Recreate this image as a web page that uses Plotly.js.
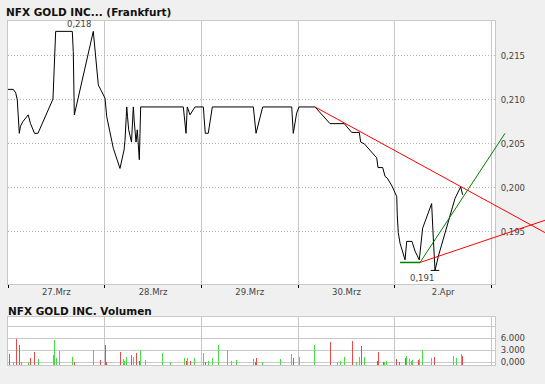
<!DOCTYPE html>
<html>
<head>
<meta charset="utf-8">
<script src="https://cdn.plot.ly/plotly-3.0.1.min.js"></script>
<style>
html,body{margin:0;padding:0;background:#f0f0f0;}
#chart{width:545px;height:384px;}
</style>
</head>
<body>
<div id="chart"></div>
<script>
// ---- data ----
const dayLabels = ['27.Mrz', '28.Mrz', '29.Mrz', '30.Mrz', '2.Apr'];
const priceTicks = [0.195, 0.200, 0.205, 0.210, 0.215];
const priceTickText = ['0,195', '0,200', '0,205', '0,210', '0,215'];
const volTicks = [0, 3000, 6000, 9000];
const volTickText = ['0,000', '3.000', '6.000', ''];

// time in trading days (0 = start of 27.Mrz)
const priceT = [0.000,0.055,0.080,0.096,0.117,0.129,0.152,0.209,0.233,0.274,0.310,0.465,0.493,0.665,0.675,0.686,0.882,0.934,0.962,1.003,
  1.021,1.089,1.158,1.176,1.200,1.210,1.228,1.236,1.248,1.277,1.290,1.296,1.306,1.324,1.337,1.347,1.358,1.365,1.372,1.813,
  1.841,1.854,1.882,1.934,2.020,2.040,2.071,2.113,2.537,2.565,2.606,2.634,2.934,2.950,2.985,3.009,3.175,3.244,3.330,3.478,
  3.554,3.633,3.647,3.685,3.813,3.826,3.875,3.899,3.922,3.971,4.002,4.020,4.026,4.036,4.054,4.106,4.123,4.178,4.209,4.253,
  4.288,4.381,4.398,4.416,4.450,4.571,4.623,4.681,4.702];
const priceV = [0.2112,0.2112,0.2108,0.2100,0.2062,0.2070,0.2075,0.2083,0.2073,0.2062,0.2062,0.2101,0.2178,0.2178,0.2155,0.2083,0.2178,0.2117,0.2111,0.2102,
  0.2081,0.2045,0.2022,0.2032,0.2043,0.2054,0.2092,0.2081,0.2066,0.2052,0.2081,0.2092,0.2075,0.2052,0.2066,0.2043,0.2032,0.2062,0.2092,0.2092,
  0.2062,0.2092,0.2083,0.2092,0.2092,0.2062,0.2062,0.2092,0.2092,0.2062,0.2081,0.2092,0.2092,0.2062,0.2085,0.2092,0.2092,0.2083,0.2073,0.2073,
  0.2063,0.2063,0.2052,0.2050,0.2034,0.2023,0.2023,0.2013,0.2011,0.2002,0.1994,0.1990,0.1968,0.1949,0.1937,0.1918,0.1939,0.1939,0.1928,0.1918,
  0.1954,0.1982,0.1943,0.1906,0.1922,0.1967,0.1988,0.2001,0.1992];

// trend lines (anchor points)
const resistT = [3.175, 5.553];
const resistV = [0.2092, 0.1949];
const supportT = [4.261, 5.553];
const supportV = [0.1915, 0.1963];
const baseT = [4.054, 4.261];
const baseV = [0.1915, 0.1915];
const riseT = [4.261, 5.140];
const riseV = [0.1915, 0.2062];

// volume
const volT = [0.013,0.055,0.090,0.121,0.138,0.210,0.231,0.272,0.313,0.468,0.479,0.499,0.531,0.665,0.686,0.882,0.954,1.006,1.017,1.161,
  1.192,1.203,1.223,1.275,1.296,1.327,1.358,1.368,1.420,1.596,1.678,1.823,1.844,1.858,1.885,1.927,2.020,2.044,2.071,2.113,
  2.175,2.268,2.309,2.361,2.537,2.557,2.568,2.630,2.820,2.930,2.950,3.017,3.168,3.333,3.405,3.436,3.478,3.560,3.602,3.633,
  3.654,3.685,3.819,3.829,3.881,3.896,3.912,4.016,4.047,4.109,4.119,4.150,4.171,4.181,4.243,4.253,4.284,4.377,4.409,4.605,
  4.636,4.688,4.698];
const volV = [1900,0,5750,4250,0,100,900,2400,750,1750,5500,1100,2750,1250,0,3000,500,4250,0,2400,
  750,250,1350,1750,1350,2250,250,3000,500,2150,0,1100,250,1100,250,1100,2150,0,250,1100,
  4250,3000,250,500,750,100,900,0,750,2000,1100,1350,4250,5100,0,350,1350,5350,0,1350,
  4000,1350,250,2400,100,100,350,750,100,900,1500,750,350,500,500,750,3000,1100,1350,1500,
  1100,2000,1500];
const volDir = ['d','u','d','d','u','u','d','d','u','u','u','u','u','u','d','u','d','d','d','d',
  'u','u','u','d','u','d','d','u','u','u','u','u','d','u','d','u','u','d','u','u',
  'u','u','u','u','u','d','d','u','u','u','d','u','u','d','u','u','u','d','u','u',
  'd','u','d','d','d','u','u','d','d','d','u','u','u','u','d','u','u','u','d','u',
  'u','u','d'];

// ---- layout helpers ----
const W = 545, H = 384;
const px = v => v / W, py = v => 1 - v / H;
const DAYPX = 96.7;
const mainX = [px(8), px(495)];
const mainY = [py(284), py(21)];
const volY = [py(365), py(317)];
const xRange = [0, (495 - 8) / DAYPX];
const xRangeWide = [0, (545 - 8) / DAYPX];
const pRange = [0.18905, 0.21898];
const vRange = [-750, 11250];

const dayMid = dayLabels.map((_, i) => i + 0.5);
const dayBounds = dayLabels.map((_, i) => i).concat([dayLabels.length]);

const gridGrey = '#c8c8c8';
const tickFont = {family: 'DejaVu Sans', size: 8.5, color: '#444'};

const red = '#ff0000', green = '#008000';

let pMaxI = 0, pMinI = 0;
priceV.forEach((v, i) => { if (v > priceV[pMaxI]) pMaxI = i; if (v < priceV[pMinI]) pMinI = i; });
let pMaxLast = pMaxI; priceV.forEach((v, i) => { if (v === priceV[pMaxI]) pMaxLast = i; });
const fmt = v => v.toFixed(3).replace('.', ',');

const traces = [
  {x: priceT, y: priceV, type: 'scatter', mode: 'lines', line: {color: '#000', width: 1}, xaxis: 'x', yaxis: 'y', hoverinfo: 'skip'},
  {x: [priceT[pMinI]], y: [priceV[pMinI]], type: 'scatter', mode: 'markers', marker: {symbol: 'line-ew', size: 6, line: {color: '#000', width: 1}}, xaxis: 'x', yaxis: 'y', cliponaxis: false},
  {x: resistT, y: resistV, type: 'scatter', mode: 'lines', line: {color: red, width: 1}, xaxis: 'x2', yaxis: 'y2'},
  {x: supportT, y: supportV, type: 'scatter', mode: 'lines', line: {color: red, width: 1}, xaxis: 'x2', yaxis: 'y2'},
  {x: baseT, y: baseV, type: 'scatter', mode: 'lines', line: {color: green, width: 1.5}, xaxis: 'x2', yaxis: 'y2'},
  {x: riseT, y: riseV, type: 'scatter', mode: 'lines', line: {color: green, width: 1}, xaxis: 'x2', yaxis: 'y2'},
  {x: volT, y: volV.map(v => v - vRange[0]), base: vRange[0], type: 'bar', width: 0.013,
   marker: {color: volDir.map(d => d === 'u' ? '#44dd44' : '#e84a4a'), line: {width: 0}},
   xaxis: 'x3', yaxis: 'y3'}
];

const layout = {
  width: W, height: H, autosize: false,
  margin: {l: 0, r: 0, t: 0, b: 0, pad: 0},
  paper_bgcolor: '#f0f0f0', plot_bgcolor: 'rgba(0,0,0,0)',
  showlegend: false,
  font: {family: 'DejaVu Sans', size: 9, color: '#444'},
  title: {text: 'NFX GOLD INC... (Frankfurt)', x: px(6), xanchor: 'left', y: py(12.5), yanchor: 'middle',
          font: {family: 'DejaVu Sans', size: 10.5, weight: 'bold', color: '#111'}},
  xaxis: {domain: mainX, range: xRange, anchor: 'y', tickmode: 'array', tickvals: dayMid, ticktext: dayLabels,
          ticks: '', showgrid: false, zeroline: false, showline: true, mirror: true, linecolor: gridGrey, linewidth: 1,
          tickfont: tickFont, ticklabelstandoff: 0,
          minor: {tickmode: 'array', tickvals: dayBounds, showgrid: true, gridcolor: gridGrey, gridwidth: 1,
                  ticks: 'outside', ticklen: 3, tickcolor: '#000', tickwidth: 1}},
  yaxis: {domain: mainY, range: pRange, anchor: 'x', side: 'right', tickmode: 'array', tickvals: priceTicks, ticktext: priceTickText,
          ticks: '', showgrid: true, gridcolor: '#b4b4b4', griddash: '1px,2px', gridwidth: 1, zeroline: false,
          showline: true, mirror: true, linecolor: gridGrey, linewidth: 1, tickfont: tickFont, ticklabelstandoff: 3},
  xaxis2: {domain: [px(8), 1], range: xRangeWide, anchor: 'y2', visible: false, fixedrange: true},
  yaxis2: {domain: mainY, range: pRange, anchor: 'x2', visible: false, fixedrange: true},
  xaxis3: {domain: mainX, range: xRange, anchor: 'y3', tickmode: 'array', tickvals: dayBounds, showticklabels: false,
           ticks: '', showgrid: true, gridcolor: gridGrey, zeroline: false, showline: true, mirror: true, linecolor: gridGrey},
  yaxis3: {domain: volY, range: vRange, anchor: 'x3', side: 'right', tickmode: 'array', tickvals: volTicks, ticktext: volTickText,
           ticks: '', showgrid: true, gridcolor: gridGrey, zeroline: false, showline: true, mirror: true, linecolor: gridGrey,
           tickfont: tickFont, ticklabelstandoff: 3},
  bargap: 0,
  shapes: [
    {type: 'rect', xref: 'x domain', yref: 'y domain', x0: 0, x1: 1, y0: 0, y1: 1, fillcolor: '#fff', line: {width: 0}, layer: 'below'},
    {type: 'rect', xref: 'x3 domain', yref: 'y3 domain', x0: 0, x1: 1, y0: 0, y1: 1, fillcolor: '#fff', line: {width: 0}, layer: 'below'}
  ],
  annotations: [
    {text: fmt(priceV[pMaxI]), x: (priceT[pMaxI] + priceT[pMaxLast]) / 2, y: priceV[pMaxI], xref: 'x', yref: 'y',
     showarrow: false, xanchor: 'center', yanchor: 'bottom', xshift: 5, yshift: 0, font: tickFont},
    {text: fmt(priceV[pMinI]), x: priceT[pMinI], y: priceV[pMinI], xref: 'x', yref: 'y',
     showarrow: false, xanchor: 'center', yanchor: 'top', xshift: -13, yshift: -1, font: tickFont},
    {text: 'NFX GOLD INC. Volumen', x: px(6), y: py(310.5), xref: 'paper', yref: 'paper', xanchor: 'left', yanchor: 'middle',
     showarrow: false, font: {family: 'DejaVu Sans', size: 10.5, weight: 'bold', color: '#111'}}
  ]
};

Plotly.newPlot('chart', traces, layout, {staticPlot: true, displayModeBar: false});
</script>
</body>
</html>
